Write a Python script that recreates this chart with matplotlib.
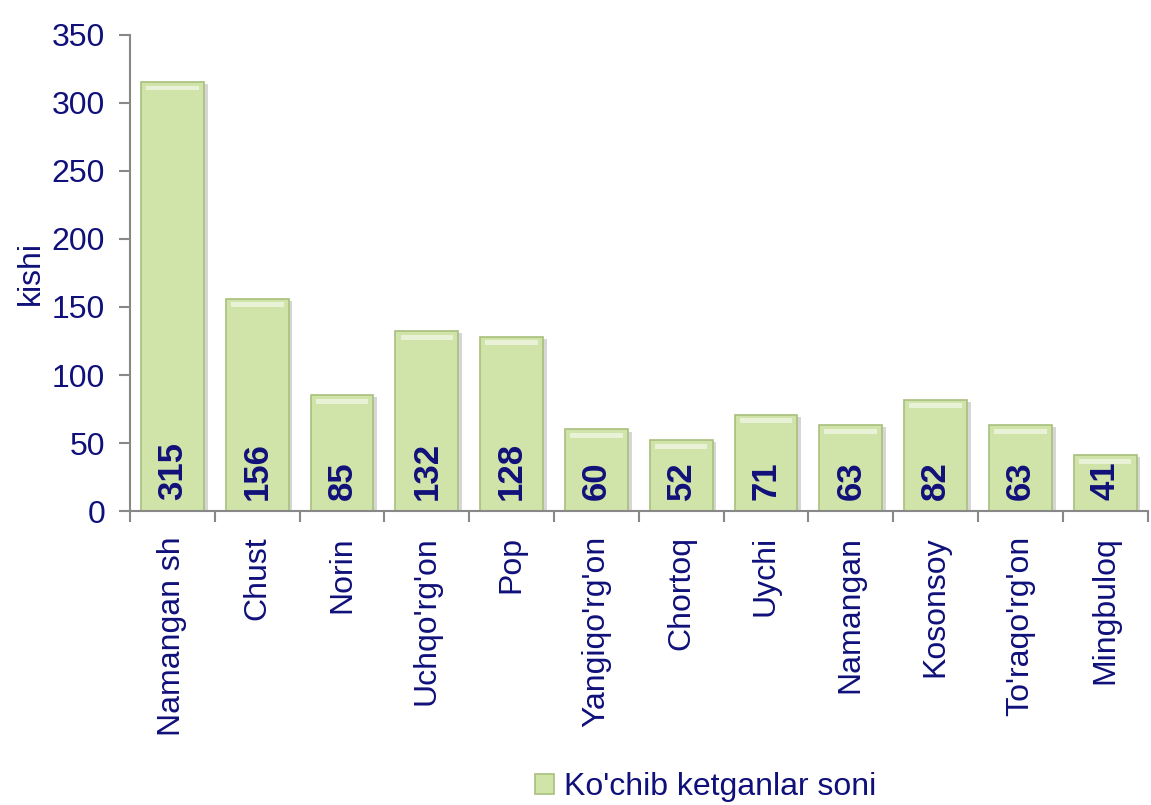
import matplotlib.pyplot as plt

categories = ["Namangan sh", "Chust", "Norin", "Uchqo'rg'on", "Pop", "Yangiqo'rg'on",
              "Chortoq", "Uychi", "Namangan", "Kosonsoy", "To'raqo'rg'on", "Mingbuloq"]
values = [315, 156, 85, 132, 128, 60, 52, 71, 63, 82, 63, 41]
series_name = "Ko'chib ketganlar soni"

navy = "#10107a"
axis_grey = "#888888"

plt.rcParams['font.family'] = ['Liberation Sans', 'DejaVu Sans']

fig = plt.figure(figsize=(11.51, 8.05), dpi=100)
ax = fig.add_axes([0.113, 0.365, 0.884, 0.592])

x = list(range(len(categories)))
# soft shadow behind each bar
ax.bar([i + 0.045 for i in x], values, width=0.74, color="#b5b5b5", alpha=0.55,
       bottom=-1.5, zorder=1)
bars = ax.bar(x, values, width=0.74, color="#d0e3a8", edgecolor="#a8bf7c",
              linewidth=1.2, label=series_name, zorder=2)
# lighter bevel on top of each bar
ax.bar(x, [3.5] * len(values), width=0.62, bottom=[v - 6 for v in values],
       color="#e9f2d6", linewidth=0, zorder=2.5)

for i, v in enumerate(values):
    ax.text(i, 8, str(v), rotation=90, ha="center", va="bottom",
            fontsize=25, fontweight="bold", color=navy, zorder=3)

ax.set_xlim(-0.5, len(categories) - 0.5)
ax.set_ylim(0, 350)
ax.set_yticks(range(0, 351, 50))
ax.set_xticks([i - 0.5 for i in range(len(categories) + 1)], minor=False)
ax.set_xticklabels([])
ax.set_xticks(x, minor=True)
ax.set_xticklabels(categories, minor=True, rotation=90, fontsize=23, color=navy)
ax.tick_params(axis="x", which="minor", length=0, pad=18)
ax.tick_params(axis="x", which="major", length=8, color=axis_grey, width=1.5)
ax.tick_params(axis="y", length=8, color=axis_grey, width=1.5, labelsize=23,
               labelcolor=navy, pad=10)
ax.set_ylabel("kishi", fontsize=23, color=navy, labelpad=4)

for s in ["top", "right"]:
    ax.spines[s].set_visible(False)
for s in ["left", "bottom"]:
    ax.spines[s].set_color(axis_grey)
    ax.spines[s].set_linewidth(1.5)

fig.legend(handles=[bars], labels=[series_name], loc="center",
           bbox_to_anchor=(0.613, 0.022), frameon=False, fontsize=23,
           labelcolor=navy, handlelength=0.6, handleheight=0.6, handletextpad=0.3)

fig.savefig("out.png", dpi=100)
